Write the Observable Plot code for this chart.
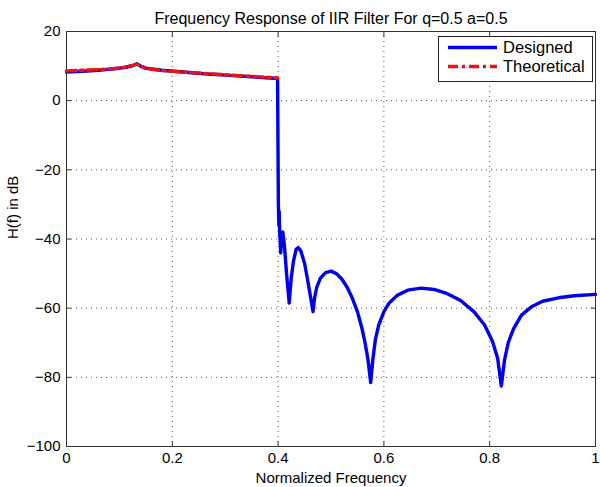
<!DOCTYPE html>
<html>
<head>
<meta charset="utf-8">
<script src="https://cdn.jsdelivr.net/npm/d3@7"></script>
<script src="https://cdn.jsdelivr.net/npm/@observablehq/plot@0.6"></script>
<style>
  html, body { margin: 0; padding: 0; background: #fff; }
  #chart { width: 600px; height: 487px; }
  svg { font-family: "Liberation Sans", Arial, Helvetica, sans-serif; }
</style>
</head>
<body>
<div id="chart"></div>
<script>
const titleText = "Frequency Response of IIR Filter For q=0.5 a=0.5";
const xLabel = "Normalized Frequency";
const yLabel = "H(f) in dB";
const seriesNames = ["Designed", "Theoretical"];
const xTicks = [0, 0.2, 0.4, 0.6, 0.8, 1];
const yTicks = [-100, -80, -60, -40, -20, 0, 20];

const designedFreq = [0, 0.03, 0.06, 0.09, 0.11, 0.125, 0.133, 0.14, 0.15, 0.18, 0.22, 0.26, 0.3, 0.35, 0.399,
  0.4005, 0.4015, 0.402, 0.403, 0.405, 0.407, 0.409, 0.412, 0.416, 0.421,
  0.425, 0.429, 0.434, 0.438, 0.443, 0.45, 0.456, 0.461, 0.466,
  0.469, 0.473, 0.48, 0.49, 0.5, 0.51, 0.52, 0.53, 0.54, 0.55, 0.558, 0.565, 0.57, 0.575,
  0.579, 0.584, 0.59, 0.6, 0.61, 0.625, 0.645, 0.67, 0.695, 0.72, 0.745, 0.77, 0.79, 0.805, 0.815, 0.822,
  0.828, 0.835, 0.845, 0.86, 0.88, 0.9, 0.93, 0.96, 1];
const designedDb = [8.3, 8.5, 8.8, 9.2, 9.6, 10.1, 10.7, 10.0, 9.4, 8.8, 8.3, 7.8, 7.4, 6.9, 6.4,
  -30, -36, -32, -38, -44, -39, -38, -42, -50, -58.5,
  -51, -46.5, -43, -42.5, -43.5, -47, -52, -56.5, -61,
  -57, -54, -51.3, -49.7, -49.3, -50, -51.5, -53.8, -57, -61, -65.5, -70.5, -75, -81.5,
  -75, -69, -65, -61, -58.5, -56.3, -54.8, -54.2, -54.6, -55.8, -57.8, -61, -64.8, -69.5, -74.5, -82.5,
  -75, -70, -66, -62, -59.5, -58, -57, -56.4, -56];

const theoFreq = [0, 0.03, 0.06, 0.09, 0.11, 0.125, 0.133, 0.14, 0.15, 0.18, 0.22, 0.26, 0.3, 0.35, 0.399];
const theoDb = [8.6, 8.8, 9.0, 9.3, 9.7, 10.2, 10.6, 10.0, 9.3, 8.7, 8.3, 7.9, 7.5, 7.0, 6.6];

const designed = designedFreq.map((f, i) => ({f, db: designedDb[i]}));
const theoretical = theoFreq.map((f, i) => ({f, db: theoDb[i]}));

const font = "Liberation Sans, Arial, Helvetica, sans-serif";
const W = 600, H = 487;
const mL = 66, mR = 5, mT = 31, mB = 41;

const plot = Plot.plot({
  width: W,
  height: H,
  marginLeft: mL,
  marginRight: mR,
  marginTop: mT,
  marginBottom: mB,
  style: {fontFamily: font, fontSize: "14px", color: "#000", background: "#fff"},
  x: {domain: [0, 1], ticks: xTicks},
  y: {domain: [-100, 20], ticks: yTicks},
  marks: [
    Plot.gridX(xTicks.slice(1, -1), {stroke: "#555", strokeOpacity: 1, strokeDasharray: "1,4", strokeWidth: 1}),
    Plot.gridY(yTicks.slice(1, -1), {stroke: "#555", strokeOpacity: 1, strokeDasharray: "1,4", strokeWidth: 1}),
    Plot.axisX(xTicks, {anchor: "bottom", tickSize: 0, tickPadding: 6, label: null, fontSize: 15, tickFormat: d => String(d)}),
    Plot.axisY(yTicks, {anchor: "left", tickSize: 0, tickPadding: 6, label: null, fontSize: 15}),
    Plot.axisX(xTicks, {anchor: "bottom", tickSize: -5, tickFormat: () => "", label: null, stroke: "#333"}),
    Plot.axisX(xTicks, {anchor: "top", tickSize: -5, tickFormat: () => "", label: null, stroke: "#333"}),
    Plot.axisY(yTicks, {anchor: "left", tickSize: -5, tickFormat: () => "", label: null, stroke: "#333"}),
    Plot.axisY(yTicks, {anchor: "right", tickSize: -5, tickFormat: () => "", label: null, stroke: "#333"}),
    Plot.frame({stroke: "#333", strokeWidth: 1}),
    Plot.line(designed, {x: "f", y: "db", stroke: "#0000ee", strokeWidth: 3.4, strokeLinejoin: "round", strokeLinecap: "round"}),
    Plot.line(theoretical, {x: "f", y: "db", stroke: "#ee1111", strokeWidth: 3.4, strokeDasharray: "10,4,3,4"}),
    Plot.text([titleText], {frameAnchor: "top", dy: -19, fontSize: 16, fill: "#000"}),
    Plot.text([xLabel], {frameAnchor: "bottom", dy: 36, fontSize: 15, fill: "#000"}),
    Plot.text([yLabel], {frameAnchor: "left", dx: -53, rotate: -90, fontSize: 15, fill: "#000"})
  ]
});

document.getElementById("chart").appendChild(plot);

// Legend (MATLAB style box at top right)
const svg = d3.select(plot);
const lg = svg.append("g").attr("font-family", font).attr("font-size", 17).attr("text-anchor", "start");
lg.append("rect").attr("x", 438.5).attr("y", 36.5).attr("width", 154).attr("height", 45)
  .attr("fill", "#fff").attr("stroke", "#222").attr("stroke-width", 1);
const legendColors = ["#0000ee", "#ee1111"];
const legendDash = [null, "10,4,3,4"];
seriesNames.forEach((name, i) => {
  const y = 47.5 + i * 19;
  const ln = lg.append("line").attr("x1", 448).attr("x2", 497).attr("y1", y).attr("y2", y)
    .attr("stroke", legendColors[i]).attr("stroke-width", 3.4);
  if (legendDash[i]) ln.attr("stroke-dasharray", legendDash[i]);
  lg.append("text").attr("x", 503).attr("y", y).attr("dy", "0.35em").attr("fill", "#000")
    .style("font-size", "16.5px").text(name);
});
</script>
</body>
</html>
